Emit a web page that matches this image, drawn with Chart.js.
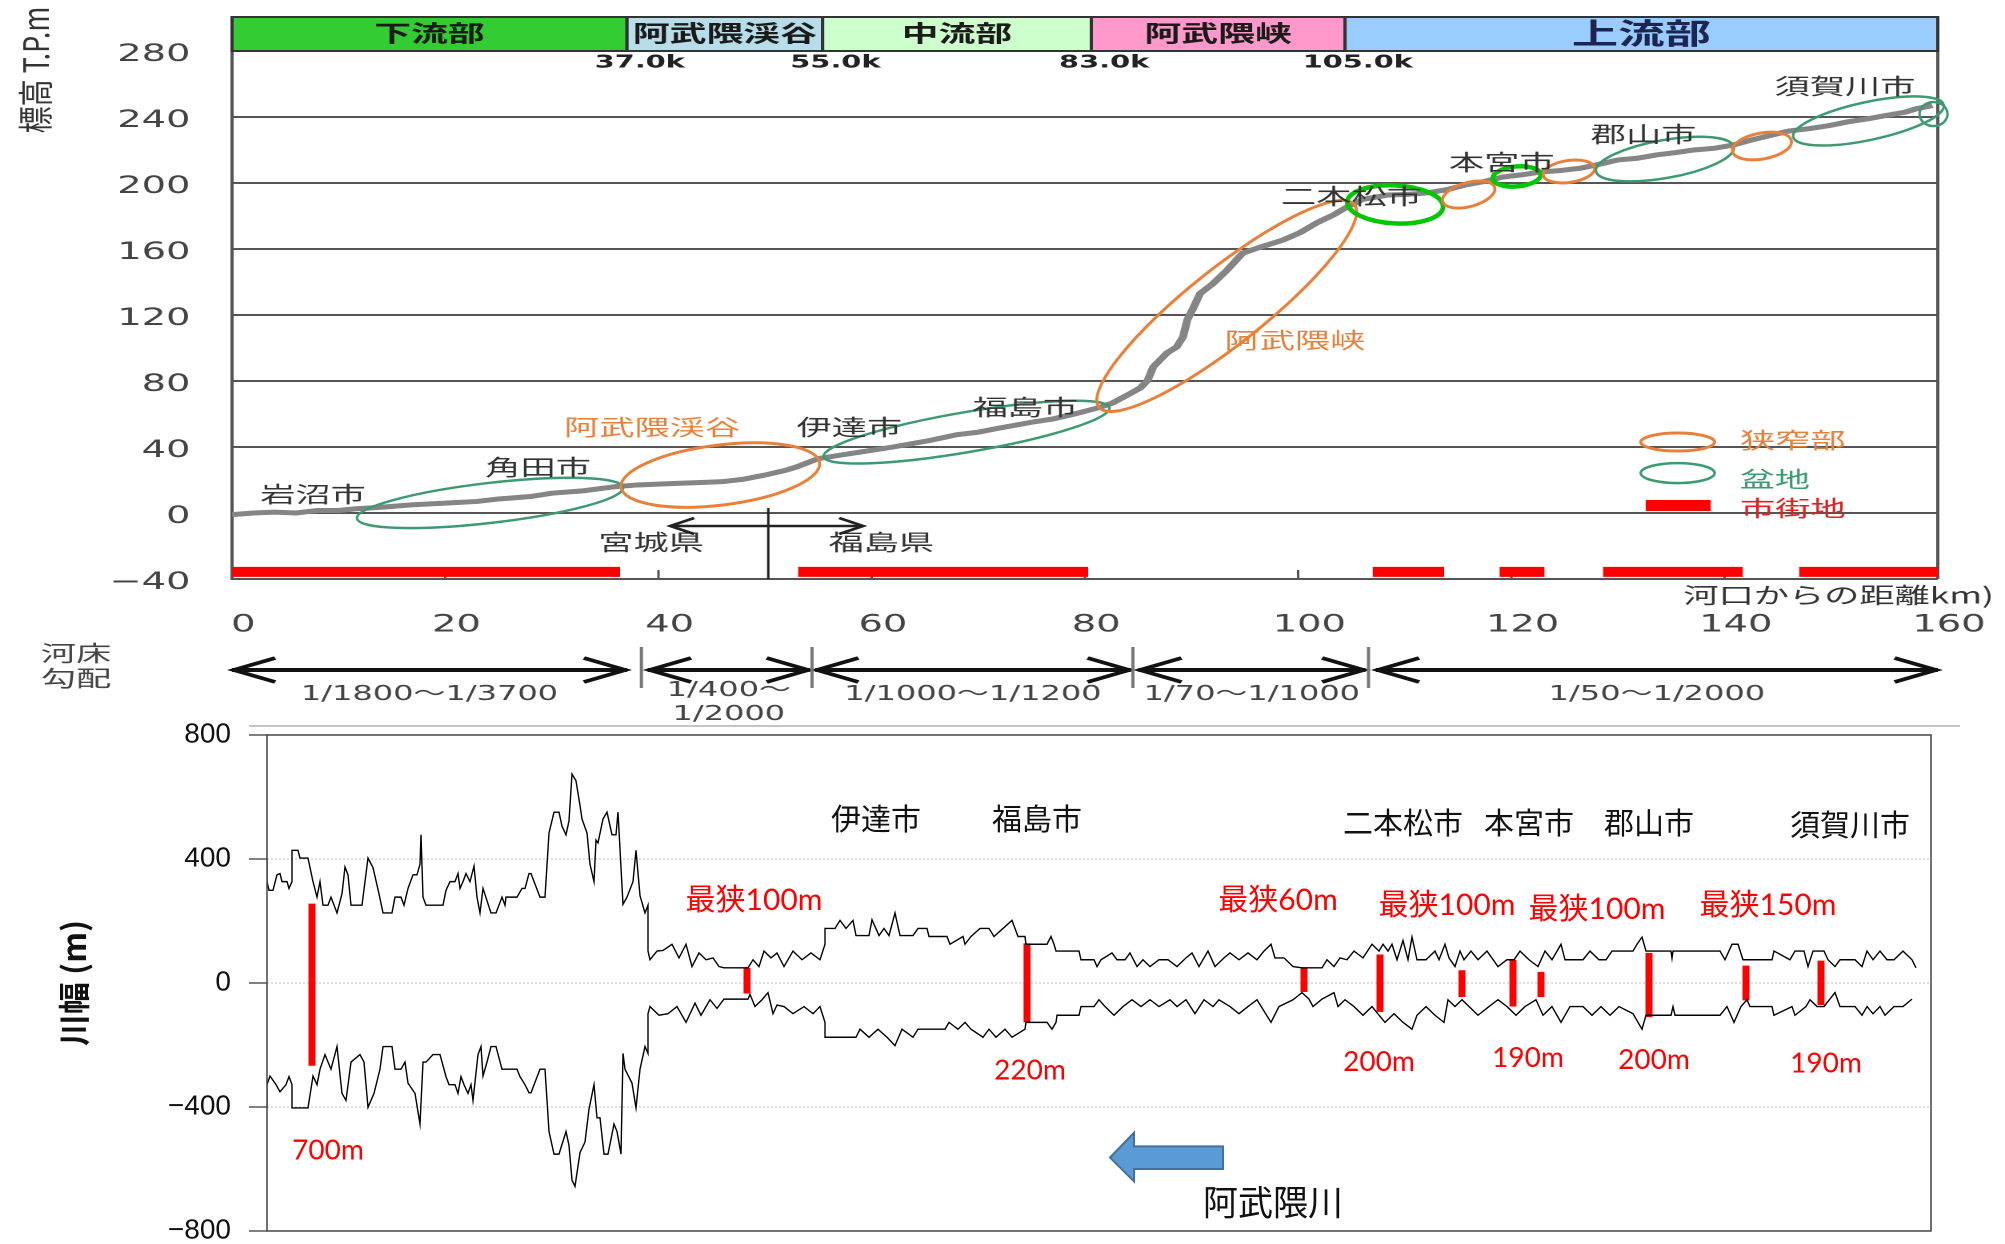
<!DOCTYPE html>
<html lang="ja">
<head>
<meta charset="UTF-8">
<title>阿武隈川 縦断図と川幅</title>
<script src="https://cdn.jsdelivr.net/npm/chart.js"></script>
<style>
  body { margin: 0; background: #fff; width: 2005px; height: 1244px; position: relative; overflow: hidden; }
  canvas { position: absolute; left: 0; }
  #profile { top: 0; }
  #width { top: 690px; }
</style>
</head>
<body>
<canvas id="profile" width="1253" height="730" style="width:2005px;height:730px"></canvas>
<canvas id="width" width="2005" height="580" style="width:2005px;height:580px"></canvas>
<script>
// ---- profile (upper chart) data ----
const profileKm = [
  0, 2, 4, 6, 8, 10, 11.5, 14, 17, 20,
  23, 25, 28, 30, 33, 36, 38, 40, 42, 44,
  46, 48, 50, 52, 53, 55, 57, 59, 62, 65.5,
  68, 70, 72, 75, 77, 79, 81.4, 82.6, 84, 85.2,
  85.9, 86.4, 87.7, 88.6, 89.2, 89.6, 90.2, 90.8, 92, 93.3,
  94.8, 96.4, 98.6, 100.2, 101.8, 103.3, 104.6, 106, 108.4, 110,
  112.1, 114, 115.7, 117.5, 119.2, 121, 122.8, 124.5, 126.5, 128,
  130, 131.8, 133.6, 135.5, 137.1, 139, 140.8, 142.5, 144.4, 146,
  148, 150, 151.5, 153.5, 155.2, 157, 158, 159.5
];
const profileElev = [
  -1, 0, 0.5, 0, 1.5, 1.5, 2.5, 3.5, 5, 6,
  7, 8.5, 10, 12, 13.5, 16, 17, 17.5, 18, 18.5,
  19, 20.5, 23, 26, 28, 33, 35, 37, 40, 44,
  47.5, 49, 51.5, 55, 57, 60, 64, 66.7, 71.5, 75.8,
  80.6, 88.5, 97, 100.6, 106.7, 117, 124.8, 133, 139, 147,
  157.5, 161, 165.5, 170, 176, 180.6, 185.5, 190, 192.7, 193,
  194, 196, 198.8, 201, 203.6, 205, 206.7, 207.5, 209, 211,
  214, 215, 217, 218.5, 220, 221, 223, 226, 229, 231.5,
  233, 235, 237, 239, 241, 243, 245, 247
];
const urbanRanges = [[0, 36.4], [53.1, 80.3], [107, 113.7], [118.9, 123.1], [128.6, 141.7], [147, 160]];
const sectionEdges = [0, 37.05, 55.4, 80.6, 104.4, 160];
const sectionNames = ['下流部', '阿武隈渓谷', '中流部', '阿武隈峡', '上流部'];
const sectionMarks = ['37.0k', '55.0k', '83.0k', '105.0k'];
const slopeSpans = [[0, 37.05], [39.0, 54.2], [54.7, 84.3], [85.0, 106.3], [107.3, 160]];
const slopeDividers = [38.4, 54.4, 84.5, 106.6];
const slopeLabels = [['1/1800～1/3700'], ['1/400～', '1/2000'], ['1/1000～1/1200'], ['1/70～1/1000'], ['1/50～1/2000']];
const profileTowns = [
  ['岩沼市', 7.6, 11.5], ['角田市', 28.7, 27.9], ['伊達市', 57.9, 52], ['福島市', 74.4, 64.2],
  ['二本松市', 105, 192], ['本宮市', 119.1, 212.7], ['郡山市', 132.4, 229.7], ['須賀川市', 151.3, 258.8],
  ['宮城県', 39.3, -17.6], ['福島県', 60.9, -17.6]
];
const gorgeNames = [['阿武隈渓谷', 39.4, 52], ['阿武隈峡', 99.7, 104.8]];
// rings: km, elevation, rx(px), ry(px), angle(deg), kind
const rings = [
  [24.2, 6.1, 134, 20, -6.6, 'basin'], [45.8, 23, 100, 30, -7, 'gorge'],
  [68.9, 49, 145, 20, -9.7, 'basin'], [93.3, 125.5, 163, 38, -38.4, 'gorge'],
  [109.1, 187, 48, 19, 3, 'bright'], [116.0, 193, 27, 12, -15, 'gorge'],
  [120.5, 204, 24, 10, -5, 'bright'], [125.4, 207, 26, 11, -8, 'gorge'],
  [134.4, 214.5, 70, 19, -10, 'basin'], [143.5, 222.4, 30, 13, -10, 'gorge'],
  [153.5, 237.6, 77, 19, -12, 'basin'], [159.6, 241.8, 14, 12, 0, 'basin'],
  [135.6, 43, 37, 9, 0, 'gorge'], [135.6, 24.2, 37, 10, 0, 'basin']
];

// ---- river width (lower chart) data ----
const upperBank = [
  [0,400],[0,327],[0.2,299],[0.6,299],[1.0,349],[1.3,353],[1.5,327],[2.0,327],[2.2,305],[2.5,327],[2.5,428],[3.1,428],[3.3,403],[4.1,403],[4.6,327],[5.0,277],[5.3,327],[5.6,251],[6.1,251],[6.4,277],[7.0,226],[7.5,288],[7.8,374],[8.1,349],[8.4,251],[9.5,251],[10.1,403],[10.6,372],[11.2,288],[11.6,226],[12.5,226],[12.8,277],[13.4,277],[13.7,251],[14.1,305],[14.6,349],[15.0,349],[15.3,383],[15.4,478],[15.6,277],[15.9,251],[17.6,251],[17.9,299],[18.3,327],[18.8,327],[19.1,353],[19.3,305],[19.6,327],[19.9,353],[20.3,327],[20.7,377],[21.0,277],[21.3,226],[21.6,305],[22.4,226],[22.9,226],[23.5,277],[23.8,251],[23.9,277],[25.0,277],[25.5,305],[25.8,305],[26.2,353],[26.4,353],[27.3,277],[27.8,277],[28.2,484],[28.7,551],[29.2,551],[29.5,506],[29.9,478],[30.2,523],[30.5,674],[30.9,652],[31.3,573],[31.5,529],[32.0,484],[32.3,383],[32.7,327],[32.9,461],[33.1,452],[33.6,529],[34.0,551],[34.5,478],[34.9,478],[35.1,551],[35.6,254],[36.0,277],[36.6,327],[36.9,428],[37.3,282],[37.8,226],[38.1,251],[38.1,103],
  [38.3,75],[39.0,103],[39.6,105],[40.5,125],[41.2,81],[41.9,125],[42.5,53],[43.2,97],[43.9,75],[44.6,81],[45.2,53],[45.7,49],[48.1,49],[48.6,75],[49.2,53],[49.7,103],[50.4,81],[51.0,97],[51.7,53],[52.6,103],[53.5,75],[54.4,97],[55.3,75],[55.8,125],[55.8,176],[56.8,176],[57.3,202],[57.9,176],[58.6,202],[58.9,153],[60.2,153],[60.5,204],[61.2,153],[61.7,176],[62.2,153],[62.8,226],[63.3,153],[64.6,153],[65.1,176],[66.0,176],[66.2,150],[68.0,150],[68.3,125],[69.6,150],[69.8,125],[70.4,150],[71.3,176],[72.2,176],[72.7,150],[73.6,176],[74.5,202],[75.1,150],[75.8,150],[75.9,125],[78.0,125],[78.4,150],[78.7,125],[78.9,103],[81.2,103],[81.4,75],[82.7,75],[83.0,53],[83.4,75],[84.5,97],[85.0,75],[85.8,75],[86.3,97],[87.0,53],[87.6,75],[88.3,53],[89.2,75],[90.1,75],[91.0,53],[91.9,81],[92.5,97],[93.2,53],[94.1,103],[94.8,53],[95.7,81],[96.3,97],[97.2,75],[98.1,97],[99.0,75],[99.7,103],[100.4,125],[100.8,81],[101.7,81],[102.6,53],[103.5,49],
  [105.5,49],[106.0,75],[106.7,53],[107.3,81],[108.0,75],[108.7,103],[109.6,81],[110.5,125],[111.2,103],[111.6,125],[112.1,103],[112.5,125],[113.0,75],[113.6,137],[114.1,75],[114.5,148],[115.0,75],[115.9,75],[116.8,103],[117.2,75],[117.8,125],[118.2,81],[118.8,53],[119.3,103],[119.7,75],[120.4,103],[121.1,75],[122.0,103],[123.1,53],[124.0,75],[124.7,75],[125.3,103],[126.2,75],[127.1,53],[127.8,103],[128.5,75],[129.4,125],[129.8,75],[131.6,75],[132.3,103],[133.2,75],[133.9,75],[134.5,103],[136.6,103],[137.0,125],[137.5,148],[137.9,103],[140.4,103],[140.5,80],[140.6,103],[145.3,103],[145.8,75],[146.5,125],[147.1,125],[147.6,75],[150.5,75],[150.7,103],[152.3,75],[152.8,103],[153.7,103],[154.1,53],[154.6,103],[155.7,103],[156.1,75],[156.8,53],[157.3,75],[158.8,75],[159.5,53],[160.0,103],[160.6,75],[161.3,103],[162.0,75],[162.7,75],[163.6,103],[164.5,75],[164.9,49]
];
const lowerBank = [
  [0,-404],[0,-328],[0.3,-300],[0.9,-328],[1.3,-351],[1.9,-328],[2.2,-302],[2.5,-328],[2.5,-403],[4.1,-403],[4.6,-300],[5.0,-328],[5.3,-278],[5.8,-231],[6.1,-255],[6.4,-278],[7.0,-205],[7.5,-356],[7.9,-379],[8.4,-255],[9.3,-231],[9.7,-255],[10.1,-401],[10.7,-356],[11.3,-278],[11.6,-205],[12.5,-205],[12.8,-278],[13.4,-278],[13.8,-255],[14.1,-323],[14.8,-356],[15.3,-455],[15.6,-255],[15.9,-255],[16.6,-231],[17.3,-231],[17.9,-302],[18.2,-328],[18.8,-328],[19.1,-356],[19.4,-302],[19.7,-328],[20.1,-356],[20.4,-328],[20.6,-379],[21.1,-231],[21.4,-205],[21.6,-300],[22.0,-255],[22.4,-205],[22.9,-205],[23.5,-278],[25.0,-278],[25.3,-302],[25.8,-328],[26.2,-354],[26.4,-354],[27.3,-278],[27.8,-278],[28.2,-479],[28.7,-552],[29.2,-552],[29.9,-479],[30.2,-524],[30.5,-636],[30.8,-656],[31.3,-547],[31.8,-513],[32.2,-407],[32.7,-328],[33.0,-435],[33.3,-435],[33.7,-552],[34.1,-552],[34.7,-455],[35.0,-479],[35.4,-552],[35.6,-227],[35.8,-278],[36.5,-323],[36.9,-403],[37.3,-278],[37.8,-205],[38.1,-227],[38.1,-99],
  [38.3,-76],[39.2,-104],[40.1,-99],[41.0,-76],[41.9,-127],[42.8,-65],[43.4,-104],[44.3,-54],[45.0,-82],[45.7,-52],[48.1,-52],[48.3,-37],[48.8,-76],[49.5,-54],[50.1,-31],[50.6,-99],[51.0,-71],[51.7,-76],[52.6,-99],[53.7,-76],[54.6,-99],[55.3,-76],[55.8,-127],[55.8,-175],[58.9,-175],[59.3,-149],[60.2,-175],[61.1,-149],[62.0,-175],[62.8,-202],[63.5,-149],[64.6,-175],[65.1,-149],[67.8,-149],[68.2,-127],[69.1,-149],[69.8,-127],[70.4,-149],[71.6,-175],[72.2,-149],[72.9,-175],[73.8,-149],[74.5,-175],[75.8,-149],[75.9,-127],[78.0,-127],[78.5,-149],[78.9,-127],[79.0,-104],[81.2,-104],[81.4,-76],[82.7,-76],[83.2,-54],[83.8,-76],[84.7,-104],[85.6,-76],[86.5,-54],[87.4,-76],[88.3,-54],[89.2,-76],[90.3,-54],[91.0,-76],[91.9,-54],[92.8,-99],[93.7,-54],[94.6,-76],[95.2,-54],[96.3,-76],[97.2,-99],[98.1,-76],[99.0,-54],[100.4,-127],[101.2,-76],[102.6,-54],[103.5,-31],
  [104.2,-52],[104.6,-76],[105.5,-52],[106.7,-31],[107.1,-76],[107.8,-54],[108.7,-76],[109.6,-104],[110.5,-76],[111.2,-104],[111.8,-127],[112.7,-99],[113.6,-127],[114.5,-149],[115.0,-104],[115.9,-76],[116.8,-104],[117.7,-127],[118.1,-54],[118.8,-76],[119.5,-54],[120.2,-76],[121.1,-104],[122.2,-76],[123.1,-54],[124.0,-76],[124.9,-104],[125.8,-76],[126.9,-54],[127.6,-104],[128.5,-76],[129.4,-127],[130.3,-76],[131.6,-76],[132.5,-104],[133.4,-76],[134.3,-104],[135.2,-76],[136.6,-99],[137.5,-149],[137.9,-104],[140.4,-104],[140.6,-76],[140.8,-104],[145.3,-104],[146.0,-76],[146.7,-127],[147.4,-76],[148.0,-54],[148.3,-76],[150.5,-76],[150.7,-104],[152.5,-76],[152.8,-104],[153.9,-76],[154.3,-54],[155.0,-76],[155.7,-76],[156.8,-31],[157.3,-76],[158.8,-76],[159.5,-104],[160.0,-76],[160.6,-99],[161.3,-76],[161.8,-104],[162.7,-76],[163.6,-76],[164.5,-52]
];
// narrowest / measured sections: position, bottom, top
const narrowBars = [
  [4.5, -267, 256], [48.0, -34, 49], [76.0, -127, 128], [103.7, -29, 49], [111.3, -93, 92], [119.5, -45, 41],
  [124.6, -76, 75], [127.4, -45, 36], [138.2, -110, 97], [147.9, -56, 56], [155.4, -71, 72]
];
const widthTowns = [['伊達市', 60.9, 531], ['福島市', 77.0, 531], ['二本松市', 113.6, 518], ['本宮市', 126.2, 518], ['郡山市', 138.2, 518], ['須賀川市', 158.3, 511]];
const narrowNotes = [['最狭100m', 48.7, 266], ['最狭60m', 101.1, 266], ['最狭100m', 118.0, 250], ['最狭100m', 133.0, 237], ['最狭150m', 150.1, 250]];
const widthNotes = [['700m', 6.1, -540], ['220m', 76.3, -282], ['200m', 111.2, -255], ['190m', 126.1, -242], ['200m', 138.7, -248], ['190m', 155.9, -259]];

const S = 2005 / 1253;  // the profile picture is stretched sideways
const JP = "'Noto Sans CJK JP'";
const ringStyle = { gorge: ['#e8803a', 3], basin: ['#3c9a70', 2.5], bright: ['#00c800', 4.5] };
const sectionColors = ['#33cc33', '#b7dde8', '#ccffcc', '#ff99cc', '#99ccff'];

function minus(v) { return v < 0 ? '−' + Math.abs(v) : String(v); }

function text(ctx, str, x, y, font, color, align) {
  ctx.font = font;
  ctx.fillStyle = color;
  ctx.textAlign = align || 'center';
  ctx.textBaseline = 'middle';
  ctx.fillText(str, x, y);
}

function chevron(ctx, x, y, dir, len, half) {
  ctx.beginPath();
  ctx.moveTo(x + dir * len, y - half);
  ctx.lineTo(x, y);
  ctx.lineTo(x + dir * len, y + half);
  ctx.stroke();
}

const profileDecor = {
  id: 'profileDecor',
  beforeDatasetsDraw(chart) {
    const { ctx, chartArea: a, scales: { x } } = chart;
    ctx.save();
    ctx.strokeStyle = '#555';
    ctx.lineWidth = 1.5;
    for (let k = 20; k < 160; k += 20) {
      const xp = x.getPixelForValue(k);
      ctx.beginPath(); ctx.moveTo(xp, a.bottom); ctx.lineTo(xp, a.bottom - 9); ctx.stroke();
    }
    ctx.lineWidth = 2;
    ctx.beginPath(); ctx.moveTo(a.right, a.top); ctx.lineTo(a.right, a.bottom); ctx.stroke();
    ctx.restore();
  },
  afterDatasetsDraw(chart) {
    const { ctx, scales: { x, y } } = chart;
    ctx.save();
    ctx.scale(1 / S, 1);
    rings.forEach(([km, h, rx, ry, deg, kind]) => {
      ctx.beginPath();
      ctx.ellipse(x.getPixelForValue(km) * S, y.getPixelForValue(h), rx, ry, deg * Math.PI / 180, 0, Math.PI * 2);
      ctx.strokeStyle = ringStyle[kind][0];
      ctx.lineWidth = ringStyle[kind][1];
      ctx.stroke();
    });
    ctx.restore();

    ctx.save();
    profileTowns.forEach(([n, km, h]) => text(ctx, n, x.getPixelForValue(km), y.getPixelForValue(h), `22px ${JP}`, '#333'));
    gorgeNames.forEach(([n, km, h]) => text(ctx, n, x.getPixelForValue(km), y.getPixelForValue(h), `22px ${JP}`, '#e8803a'));
    // legend
    ctx.fillStyle = '#ff0000';
    const lx0 = x.getPixelForValue(132.6), lx1 = x.getPixelForValue(138.7);
    ctx.fillRect(lx0, y.getPixelForValue(7.9), lx1 - lx0, y.getPixelForValue(1.2) - y.getPixelForValue(7.9));
    text(ctx, '狭窄部', x.getPixelForValue(146.4), y.getPixelForValue(44.2), `22px ${JP}`, '#e8803a');
    text(ctx, '盆地', x.getPixelForValue(144.7), y.getPixelForValue(20.6), `22px ${JP}`, '#3c9a70');
    text(ctx, '市街地', x.getPixelForValue(146.4), y.getPixelForValue(3), `22px ${JP}`, '#e02020');
    // prefecture border
    ctx.strokeStyle = '#222';
    ctx.lineWidth = 1.5;
    const bx = x.getPixelForValue(50.3);
    ctx.beginPath(); ctx.moveTo(bx, y.getPixelForValue(3)); ctx.lineTo(bx, y.getPixelForValue(-40)); ctx.stroke();
    const ay = y.getPixelForValue(-7.9), ax0 = x.getPixelForValue(41.1), ax1 = x.getPixelForValue(59.2);
    ctx.lineWidth = 2.5;
    ctx.beginPath(); ctx.moveTo(ax0, ay); ctx.lineTo(ax1, ay); ctx.stroke();
    chevron(ctx, ax0, ay, 1, 15, 8);
    chevron(ctx, ax1, ay, -1, 15, 8);
    ctx.restore();
  },
  afterDraw(chart) {
    const { ctx, chartArea: a, scales: { x } } = chart;
    ctx.save();
    // section band above the plot
    const top = a.top - 34;
    sectionNames.forEach((n, i) => {
      const x0 = x.getPixelForValue(sectionEdges[i]), x1 = x.getPixelForValue(sectionEdges[i + 1]);
      ctx.fillStyle = sectionColors[i];
      ctx.fillRect(x0, top, x1 - x0, 34);
      ctx.strokeStyle = '#333';
      ctx.lineWidth = 2;
      ctx.strokeRect(x0, top, x1 - x0, 34);
      const big = n === '上流部';
      text(ctx, n, (x0 + x1) / 2, top + 16, `bold ${big ? 29 : 23}px ${JP}`, big ? '#1c2450' : '#1a1a1a');
    });
    sectionMarks.forEach((m, i) => text(ctx, m, x.getPixelForValue(sectionEdges[i + 1] + 1.2), a.top + 12, "bold 18px 'DejaVu Sans'", '#222'));
    // axis titles
    text(ctx, '河口からの距離km)', 1246, a.bottom + 16, `22px ${JP}`, '#333', 'right');
    ctx.save();
    ctx.translate(22, 70);
    ctx.scale(1.3 / S, 1);
    ctx.rotate(-Math.PI / 2);
    text(ctx, '標高 T.P.m', 0, 0, `27px ${JP}`, '#333');
    ctx.restore();
    // bed slope row
    const ry = a.bottom + 91;
    text(ctx, '河床', 47.5, a.bottom + 74, `22px ${JP}`, '#444');
    text(ctx, '勾配', 47.5, a.bottom + 99, `22px ${JP}`, '#444');
    ctx.strokeStyle = '#111';
    slopeSpans.forEach(([s, e], i) => {
      const x0 = x.getPixelForValue(s), x1 = x.getPixelForValue(e);
      ctx.lineWidth = 4;
      ctx.beginPath(); ctx.moveTo(x0, ry); ctx.lineTo(x1, ry); ctx.stroke();
      ctx.lineWidth = 3.5;
      chevron(ctx, x0 + 1, ry, 1, 26, 12);
      chevron(ctx, x1 - 1, ry, -1, 26, 12);
      const cx = (x0 + x1) / 2;
      const lines = slopeLabels[i];
      lines.forEach((l, j) => text(ctx, l, cx, a.bottom + (lines.length > 1 ? 112 + j * 24 : 116), "20px 'DejaVu Sans', 'Noto Sans CJK JP'", '#444'));
    });
    ctx.strokeStyle = '#777';
    ctx.lineWidth = 2;
    slopeDividers.forEach(k => {
      const xp = x.getPixelForValue(k);
      ctx.beginPath(); ctx.moveTo(xp, a.bottom + 68); ctx.lineTo(xp, a.bottom + 109); ctx.stroke();
    });
    ctx.restore();
  }
};

new Chart(document.getElementById('profile'), {
  type: 'line',
  data: {
    datasets: [
      {
        label: '河床高',
        data: profileKm.map((k, i) => ({ x: k, y: profileElev[i] })),
        borderColor: '#858585',
        borderWidth: 5,
        pointRadius: 0,
        tension: 0
      },
      {
        label: '市街地',
        data: urbanRanges.flatMap(([s, e]) => [{ x: s, y: -35.7 }, { x: e, y: -35.7 }, { x: e, y: null }]),
        borderColor: '#ff0000',
        borderWidth: 10,
        borderCapStyle: 'butt',
        pointRadius: 0,
        spanGaps: false
      }
    ]
  },
  options: {
    responsive: false,
    devicePixelRatio: 2,
    animation: false,
    layout: { padding: { left: 0, right: 42, top: 51, bottom: 0 } },
    plugins: { legend: { display: false }, tooltip: { enabled: false } },
    scales: {
      x: {
        type: 'linear', min: 0, max: 160,
        afterFit: s => { s.height = 151; },
        grid: { display: false, drawTicks: true, tickLength: 30 },
        border: { display: false },
        ticks: { stepSize: 20, padding: 2, labelOffset: 7, color: '#444', font: { family: 'DejaVu Sans', size: 24 } }
      },
      y: {
        min: -40, max: 280,
        afterFit: s => { s.width = 145; },
        grid: { color: '#555', lineWidth: 2, drawTicks: false },
        border: { color: '#555', width: 2 },
        ticks: { stepSize: 40, padding: 26, labelOffset: 4, color: '#444', font: { family: 'DejaVu Sans', size: 24 }, callback: minus }
      }
    }
  },
  plugins: [profileDecor]
});

const widthDecor = {
  id: 'widthDecor',
  beforeDraw(chart) {
    const { ctx } = chart;
    ctx.save();
    ctx.strokeStyle = '#c4c4c4';
    ctx.lineWidth = 2;
    ctx.beginPath(); ctx.moveTo(249, 36); ctx.lineTo(1960, 36); ctx.stroke();
    ctx.restore();
  },
  afterDatasetsDraw(chart) {
    const { ctx, chartArea: a, scales: { x, y } } = chart;
    ctx.save();
    ctx.strokeStyle = '#444';
    ctx.lineWidth = 1.5;
    ctx.strokeRect(a.left, a.top, a.right - a.left, a.bottom - a.top);
    widthTowns.forEach(([n, k, v]) => text(ctx, n, x.getPixelForValue(k), y.getPixelForValue(v), `30px ${JP}`, '#111'));
    narrowNotes.forEach(([n, k, v]) => text(ctx, n, x.getPixelForValue(k), y.getPixelForValue(v), `30px Lato, ${JP}`, '#ff0000'));
    widthNotes.forEach(([n, k, v]) => text(ctx, n, x.getPixelForValue(k), y.getPixelForValue(v), '28px Lato', '#ff0000'));
    // flow direction arrow
    const pts = [[95.6, -527], [86.7, -527], [86.7, -483], [84.3, -563], [86.7, -640], [86.7, -600], [95.6, -600]];
    ctx.beginPath();
    pts.forEach(([k, v], i) => {
      const px = x.getPixelForValue(k), py = y.getPixelForValue(v);
      if (i === 0) ctx.moveTo(px, py); else ctx.lineTo(px, py);
    });
    ctx.closePath();
    ctx.fillStyle = '#5b9bd5';
    ctx.fill();
    ctx.strokeStyle = '#41719c';
    ctx.lineWidth = 2;
    ctx.stroke();
    text(ctx, '阿武隈川', x.getPixelForValue(100.6), y.getPixelForValue(-707), `35px ${JP}`, '#111');
    ctx.translate(74, y.getPixelForValue(0));
    ctx.rotate(-Math.PI / 2);
    text(ctx, '川幅 (m)', 0, 0, `bold 32px ${JP}`, '#111');
    ctx.restore();
  }
};

new Chart(document.getElementById('width'), {
  type: 'line',
  data: {
    datasets: [
      { label: '左岸', data: upperBank.map(([k, v]) => ({ x: k, y: v })), borderColor: '#000', borderWidth: 1.4, pointRadius: 0, tension: 0 },
      { label: '右岸', data: lowerBank.map(([k, v]) => ({ x: k, y: v })), borderColor: '#000', borderWidth: 1.4, pointRadius: 0, tension: 0 },
      {
        label: '川幅',
        data: narrowBars.flatMap(([k, lo, hi]) => [{ x: k, y: lo }, { x: k, y: hi }, { x: k, y: null }]),
        borderColor: '#ff0000', borderWidth: 7, borderCapStyle: 'butt', pointRadius: 0, spanGaps: false
      }
    ]
  },
  options: {
    responsive: false,
    devicePixelRatio: 2,
    animation: false,
    layout: { padding: { left: 0, right: 74, top: 45, bottom: 39 } },
    plugins: { legend: { display: false }, tooltip: { enabled: false } },
    scales: {
      x: { type: 'linear', min: 0, max: 166.4, display: false },
      y: {
        min: -800, max: 800,
        afterFit: s => { s.width = 267; },
        grid: {
          color: c => (Math.abs(c.tick.value) === 800 ? 'rgba(0,0,0,0)' : '#bdbdbd'),
          lineWidth: 1,
          tickLength: 18,
          tickColor: '#555',
          tickWidth: 1.5
        },
        border: { display: false, dash: [2, 2] },
        ticks: { stepSize: 400, padding: 18, color: '#111', font: { family: 'Liberation Sans', size: 28 }, callback: minus }
      }
    }
  },
  plugins: [widthDecor]
});
</script>
</body>
</html>
